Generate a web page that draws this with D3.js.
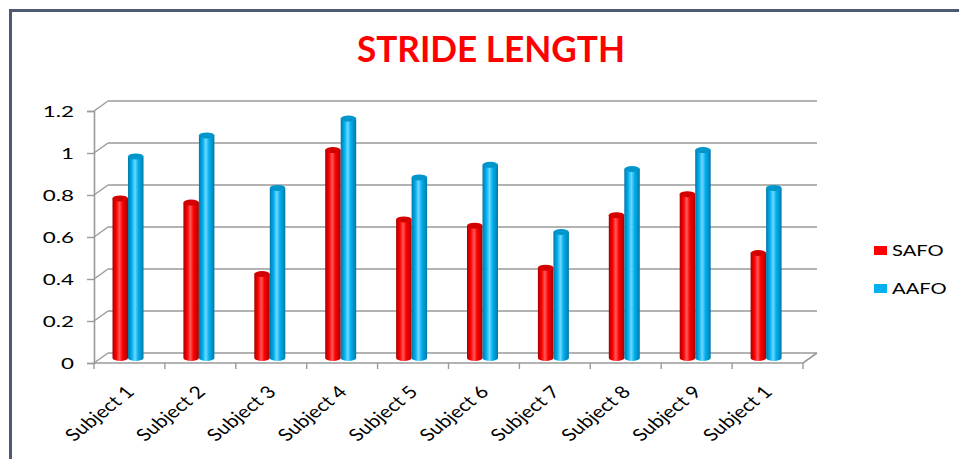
<!DOCTYPE html>
<html>
<head>
<meta charset="utf-8">
<script src="https://cdn.jsdelivr.net/npm/d3@7"></script>
<style>
  html, body { margin: 0; padding: 0; background: #fff; }
  svg { display: block; }
  text { font-family: Lato, "Open Sans", sans-serif; fill: #000; }
</style>
</head>
<body>
<svg id="chart" width="959" height="459"></svg>
<script>
// Stride length per subject for the two orthoses
const categories = ["Subject 1", "Subject 2", "Subject 3", "Subject 4", "Subject 5",
                    "Subject 6", "Subject 7", "Subject 8", "Subject 9", "Subject 1"];
const seriesNames = ["SAFO", "AAFO"];
const safo = [0.76, 0.74, 0.40, 0.99, 0.66, 0.63, 0.43, 0.68, 0.78, 0.50];
const aafo = [0.96, 1.06, 0.81, 1.14, 0.86, 0.92, 0.60, 0.90, 0.99, 0.81];
const yTicks = [0, 0.2, 0.4, 0.6, 0.8, 1, 1.2];
const yTickLabels = ["0", "0.2", "0.4", "0.6", "0.8", "1", "1.2"];
const title = "STRIDE LENGTH";

const seriesValues = [safo, aafo];
const colors = {
  SAFO: { dark: "#a80000", mid: "#ff0000", light: "#ff5a5a", top: "#d40000" },
  AAFO: { dark: "#0079a8", mid: "#00b0f0", light: "#6fd8ff", top: "#0096cc" }
};

const svg = d3.select("#chart");
const W = 959, H = 459;
const stretch = 1.4;          // horizontal stretch applied to text glyphs
const labelStretch = 1.25;    // stretch for the slanted category labels
const depth = { dx: 14, dy: -10 };

// Outer frame
svg.append("path")
  .attr("d", `M10.5,${H + 5} L10.5,10.5 L${W + 5},10.5`)
  .attr("fill", "none").attr("stroke", "#4b5a72").attr("stroke-width", 3);

// Title
svg.append("text")
  .attr("x", 491).attr("y", 62)
  .attr("text-anchor", "middle")
  .attr("font-size", 36).attr("font-weight", 700)
  .attr("textLength", 268).attr("lengthAdjust", "spacingAndGlyphs")
  .style("fill", "#ff0000")
  .text(title);

// Scales
const x0 = 94, x1 = 803;
const xBand = d3.scaleBand().domain(d3.range(categories.length)).range([x0, x1]).paddingInner(0).paddingOuter(0);
const xInner = d3.scaleBand().domain(seriesNames).range([18.5, 49.5]);
const yFront = d3.scaleLinear().domain([0, 1.2]).range([363, 111]);
const yBack = d3.scaleLinear().domain([0, 1.2]).range([363 + depth.dy, 111 + depth.dy]);
const yBar = d3.scaleLinear().domain([0, 1.2]).range([358, 106]);

const grid = svg.append("g");
const gridColor = "#9a9a9a";

// Back wall gridlines and side wall diagonals
yTicks.forEach(t => {
  grid.append("line")
    .attr("x1", x0 + depth.dx).attr("x2", x1 + depth.dx)
    .attr("y1", yBack(t)).attr("y2", yBack(t))
    .attr("stroke", gridColor).attr("stroke-width", 1.6);
  grid.append("line")
    .attr("x1", x0).attr("y1", yFront(t))
    .attr("x2", x0 + depth.dx).attr("y2", yBack(t))
    .attr("stroke", gridColor).attr("stroke-width", 1.4);
});

// Floor front edge and right diagonal
grid.append("path")
  .attr("d", `M${x0},${yFront(0)} L${x1},${yFront(0)} L${x1 + depth.dx},${yBack(0)}`)
  .attr("fill", "none").attr("stroke", gridColor).attr("stroke-width", 1.6);

// Y axis
const yAxis = d3.axisLeft(yFront).tickValues(yTicks).tickSize(7).tickPadding(0)
  .tickFormat(() => "");
const yAxisG = svg.append("g").attr("transform", `translate(${x0},0)`).call(yAxis);
yAxisG.select(".domain").attr("stroke", gridColor).attr("stroke-width", 1.6);
yAxisG.selectAll(".tick line").attr("stroke", gridColor).attr("stroke-width", 1.4);

svg.append("g").selectAll("text")
  .data(yTicks)
  .join("text")
  .attr("text-anchor", "end")
  .attr("font-size", 16)
  .attr("transform", d => `translate(74,${yFront(d) + 6}) scale(${stretch},1)`)
  .text((d, i) => yTickLabels[i]);

// X axis category ticks
const xTickPos = d3.range(categories.length + 1).map(i => i < categories.length ? xBand(i) : x1);
svg.append("g").selectAll("line")
  .data(xTickPos)
  .join("line")
  .attr("x1", d => d).attr("x2", d => d)
  .attr("y1", yFront(0)).attr("y2", yFront(0) + 6)
  .attr("stroke", gridColor).attr("stroke-width", 1.4);

// Cylinder gradients
const defs = svg.append("defs");
seriesNames.forEach(s => {
  const c = colors[s];
  const g = defs.append("linearGradient").attr("id", "grad-" + s)
    .attr("x1", "0%").attr("x2", "100%").attr("y1", "0%").attr("y2", "0%");
  g.append("stop").attr("offset", "0%").attr("stop-color", c.dark);
  g.append("stop").attr("offset", "25%").attr("stop-color", c.mid);
  g.append("stop").attr("offset", "45%").attr("stop-color", c.light);
  g.append("stop").attr("offset", "65%").attr("stop-color", c.mid);
  g.append("stop").attr("offset", "100%").attr("stop-color", c.dark);
});

// Cylinders
const bars = svg.append("g");
const ry = 3;
categories.forEach((cat, i) => {
  seriesNames.forEach((s, j) => {
    const v = seriesValues[j][i];
    const bx = xBand(i) + xInner(s);
    const bw = xInner.bandwidth();
    const cx = bx + bw / 2;
    const yTop = yBar(v), yBase = yBar(0);
    const g = bars.append("g");
    g.append("path")
      .attr("d", `M${bx},${yTop} L${bx},${yBase} A${bw / 2},${ry} 0 0 0 ${bx + bw},${yBase} L${bx + bw},${yTop} Z`)
      .attr("fill", `url(#grad-${s})`);
    g.append("ellipse")
      .attr("cx", cx).attr("cy", yTop).attr("rx", bw / 2).attr("ry", ry)
      .attr("fill", colors[s].top);
  });
});

// Category labels
svg.append("g").selectAll("text")
  .data(categories)
  .join("text")
  .attr("text-anchor", "end")
  .attr("font-size", 17)
  .attr("transform", (d, i) => `translate(${xBand(i) + xBand.bandwidth() / 2 + 6},${yFront(0) + 30}) scale(${labelStretch},1) rotate(-45)`)
  .text(d => d);

// Legend
const legend = svg.append("g");
seriesNames.forEach((s, i) => {
  const ly = 246 + i * 38;
  legend.append("rect")
    .attr("x", 874).attr("y", ly).attr("width", 13).attr("height", 9)
    .attr("fill", colors[s].mid);
  legend.append("text")
    .attr("font-size", 15.5)
    .attr("transform", `translate(892,${ly + 10}) scale(${stretch * 0.93},1)`)
    .text(s);
});
</script>
</body>
</html>
